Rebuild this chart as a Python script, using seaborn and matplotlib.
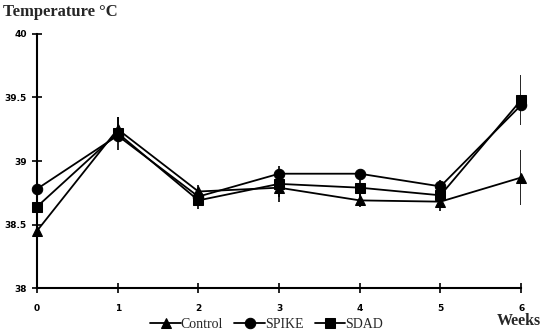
import numpy as np
import pandas as pd
import matplotlib
matplotlib.use("Agg")
import matplotlib.pyplot as plt
import seaborn as sns

# Data
weeks = [0, 1, 2, 3, 4, 5, 6]
control = [38.45, 39.25, 38.76, 38.79, 38.69, 38.68, 38.87]
spike = [38.78, 39.20, 38.72, 38.90, 38.90, 38.80, 39.44]
sdad = [38.64, 39.22, 38.69, 38.82, 38.79, 38.73, 39.48]

# Error bars (SEM)
control_err = [0.02, 0.10, 0.05, 0.07, 0.05, 0.05, 0.22]
sdad_err = [0.02, 0.13, 0.07, 0.14, 0.09, 0.12, 0.20]

groups = ["Control", "SPIKE", "SDAD"]

df = pd.DataFrame({
    "Week": weeks * 3,
    "Temp": control + spike + sdad,
    "Group": [g for g in groups for _ in weeks],
})

sns.set_style("white")
plt.rcParams["font.family"] = ["DejaVu Sans"]

fig = plt.figure(figsize=(5.44, 3.33), dpi=100)
ax = fig.add_axes([0.068, 0.135, 0.89, 0.763])

sns.lineplot(
    data=df,
    x="Week",
    y="Temp",
    style="Group",
    markers={"Control": "^", "SPIKE": "o", "SDAD": "s"},
    dashes=False,
    color="black",
    markersize=7.5,
    linewidth=1.3,
    markeredgecolor="black",
    ax=ax,
    legend=True,
)
for line in ax.get_lines():
    line.set_clip_on(False)

ax.errorbar(weeks, control, yerr=control_err, fmt="none", ecolor="black", elinewidth=1.2, capsize=0)
ax.errorbar(weeks, sdad, yerr=sdad_err, fmt="none", ecolor="black", elinewidth=1.2, capsize=0)

ax.set_xlim(0, 6)
ax.set_ylim(38, 40)
ax.set_xticks(weeks)
ax.set_yticks([38, 38.5, 39, 39.5, 40])
ax.set_yticklabels(["38", "38.5", "39", "39.5", "40"])
ax.set_xlabel("")
ax.set_ylabel("")

for side in ["top", "right"]:
    ax.spines[side].set_visible(False)
for side in ["left", "bottom"]:
    ax.spines[side].set_color("black")
    ax.spines[side].set_linewidth(1.5)

ax.tick_params(bottom=True, left=True, direction="inout", length=7, width=1.2,
               colors="black", labelsize=6.5)
ax.tick_params(axis="y", pad=4)
ax.tick_params(axis="x", pad=8)
for lab in ax.get_xticklabels() + ax.get_yticklabels():
    lab.set_fontweight("bold")

handles, labels = ax.get_legend_handles_labels()
ax.get_legend().remove()
fig.legend(
    handles, labels,
    loc="center",
    bbox_to_anchor=(0.49, 0.025),
    ncol=3,
    frameon=False,
    prop={"family": "Liberation Serif", "size": 10},
    handlelength=2.2,
    handletextpad=0.0,
    columnspacing=0.8,
)

fig.text(0.006, 0.965, "Temperature °C", fontsize=12, fontweight="bold",
         family="Liberation Serif", va="center", ha="left")
fig.text(0.995, 0.035, "Weeks", fontsize=11.5, fontweight="bold",
         family="Liberation Serif", va="center", ha="right")

fig.savefig("out.png", dpi=100)
